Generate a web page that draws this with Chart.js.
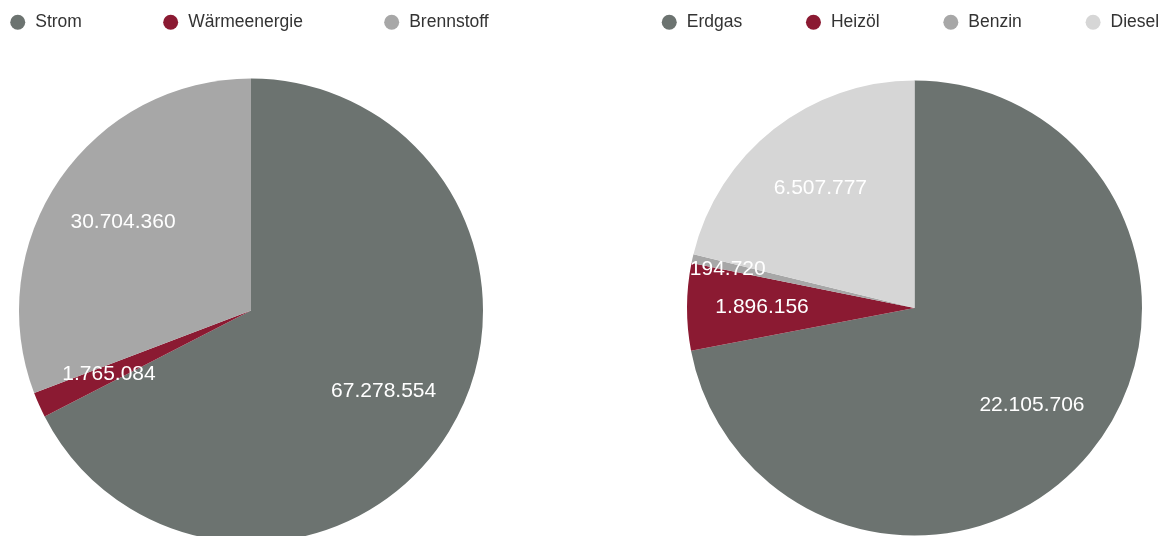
<!DOCTYPE html>
<html>
<head>
<meta charset="utf-8">
<script src="https://cdn.jsdelivr.net/npm/chart.js@4/dist/chart.umd.min.js"></script>
<style>
html, body { margin: 0; padding: 0; width: 1170px; height: 536px; overflow: hidden; background: #ffffff; }
#wrap { position: relative; width: 1170px; height: 536px; overflow: hidden; }
canvas { position: absolute; top: 0; }
</style>
</head>
<body>
<div id="wrap">
  <canvas id="left" width="644" height="580" style="left:-71px"></canvas>
  <canvas id="right" width="633" height="575" style="left:598px"></canvas>
</div>
<script>
// ---- data ----
const leftLabels = ['Strom', 'Wärmeenergie', 'Brennstoff'];
const leftValues = [67278554, 1765084, 30704360];
const rightLabels = ['Erdgas', 'Heizöl', 'Benzin', 'Diesel'];
const rightValues = [22105706, 1896156, 194720, 6507777];

// ---- styling ----
const leftColors = ['#6c7370', '#8b1a32', '#a7a7a7'];
const rightColors = ['#6c7370', '#8b1a32', '#a7a7a7', '#d6d6d6'];
const FONT = "'Liberation Sans', Arial, Helvetica, sans-serif";

function fmt(v) {
  return String(v).replace(/\B(?=(\d{3})+(?!\d))/g, '.');
}

const sliceLabels = {
  id: 'sliceLabels',
  afterDatasetsDraw(chart) {
    const ctx = chart.ctx;
    const meta = chart.getDatasetMeta(0);
    const data = chart.data.datasets[0].data;
    const total = data.reduce((a, b) => a + b, 0);
    ctx.save();
    ctx.fillStyle = '#ffffff';
    ctx.font = '21px ' + FONT;
    meta.data.forEach((arc, i) => {
      const p = arc.getProps(['x', 'y', 'startAngle', 'endAngle', 'outerRadius'], true);
      const mid = (p.startAngle + p.endAngle) / 2;
      const r = p.outerRadius * 0.67;
      const x = p.x + Math.cos(mid) * r;
      const y = p.y + Math.sin(mid) * r;
      if (data[i] / total < 0.01) {
        ctx.textAlign = 'right';
        ctx.textBaseline = 'alphabetic';
      } else {
        ctx.textAlign = 'center';
        ctx.textBaseline = 'middle';
      }
      ctx.fillText(fmt(data[i]), x, y);
    });
    ctx.restore();
  }
};

function makePie(id, labels, values, colors, legendPad, radius) {
  return new Chart(document.getElementById(id), {
    type: 'pie',
    data: {
      labels: labels,
      datasets: [{
        data: values,
        backgroundColor: colors,
        borderWidth: 0,
        hoverBorderWidth: 0,
        hoverOffset: 0,
        offset: 0
      }]
    },
    options: {
      responsive: false,
      devicePixelRatio: 1,
      animation: false,
      events: [],
      radius: radius,
      layout: { padding: { top: 13.5 - legendPad, left: 0, right: 0, bottom: 0 } },
      plugins: {
        tooltip: { enabled: false },
        legend: {
          position: 'top',
          align: 'start',
          labels: {
            usePointStyle: true,
            pointStyle: 'circle',
            boxHeight: 10.6,
            padding: legendPad,
            color: '#333333',
            font: { family: FONT, size: 17.5 }
          }
        }
      }
    },
    plugins: [sliceLabels]
  });
}

makePie('left', leftLabels, leftValues, leftColors, 80, 232);
makePie('right', rightLabels, rightValues, rightColors, 62.5, 227.5);
</script>
</body>
</html>
